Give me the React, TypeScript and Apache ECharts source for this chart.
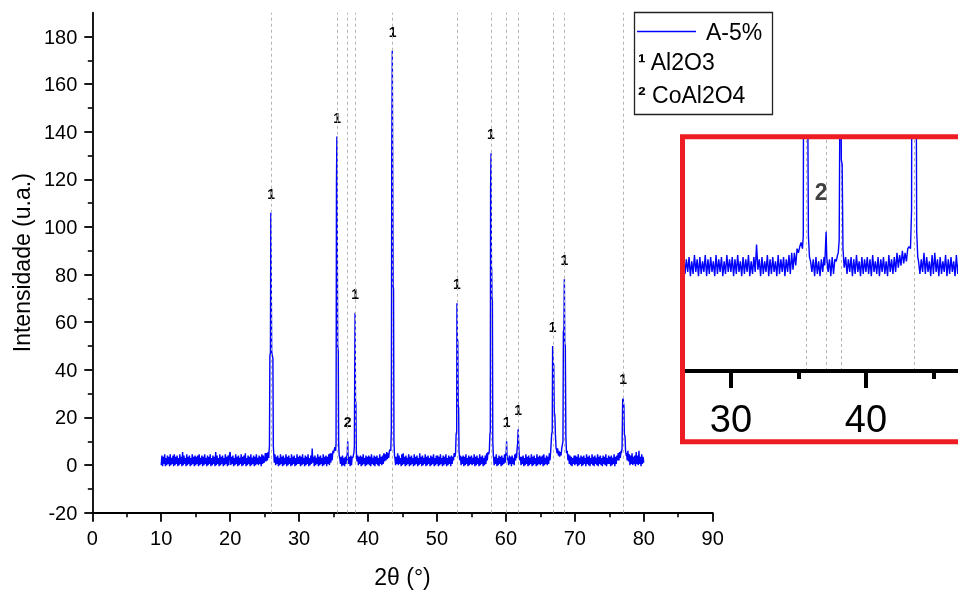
import React, { useEffect, useRef } from "react";
import * as echarts from "echarts";

// ---- Background counts, 2θ step 0.1°. null = covered by a peak profile ----
const n10 = [0, 4, -0.5, 3.5, 0.5, 4.5, -0.5, 3, 0, 4, 0.5, 3.5, -0.5, 4.5, 0, 3, 0.5, 4, -0.5, 4.5, 0, 3.5, 0.5, 4, -0.5, 3, 0, 4.5, 0.5, 3.5, -0.5, 5.5, 0, 4, 0.5, 3, -0.5, 4.5, 0, 3.5, 0.5, 4, -0.5, 3, 0, 4.5, 0.5, 3.5, -0.5, 4];
const n15 = [0, 3.5, 0.5, 4, -0.5, 4.5, 0, 3, 0.5, 4, -0.5, 3.5, 0, 4.5, 0.5, 3, -0.5, 4, 0, 3.5, 0.5, 4.5, -0.5, 3, 0, 4, 0.5, 3.5, -0.5, 5.5, 0, 4, 0.5, 3, -0.5, 4.5, 0, 3.5, 0.5, 4, -0.5, 3, 0, 4.5, 0.5, 3.5, -0.5, 4, 0, 4.5];
const n20 = [5.5, 0, 3.5, 0.5, 4, -0.5, 3, 0, 4.5, 0.5, 3.5, -0.5, 4, 0, 3, 0.5, 4.5, -0.5, 3.5, 0, 4, 0.5, 5, -0.5, 3, 0, 4, 0.5, 3.5, -0.5, 4.5, 0, 3, 0.5, 4, -0.5, 3.5, 0, 4.5, 0.5, 3, 0, 4, 0.5, 3.5, -0.5, 4.5, 0.5, 4, 1];
const n25 = [2, 5, 1.5, 5, 2, 5.5, 3, null, null, null, null, null, null, null, 1, 4.5, 0, 3.5, 0.5, 4, -0.5, 3, 0, 4.5, 0.5, 3.5, -0.5, 4, 0, 3, 0.5, 4.5, -0.5, 3.5, 0, 4, 0.5, 3, -0.5, 4.5, 0, 3.5, 0.5, 4, -0.5, 3, 0, 4.5, 0.5, 3.5];
const n30 = [0.5, 4, -0.5, 3.5, 0, 4.5, 0.5, 3, -0.5, 4, 0, 3.5, 0.5, 4.5, -0.5, 3, 0, 4, 0.5, 7, 1, 3.5, -0.5, 4, 0, 3, 0.5, 4.5, -0.5, 3.5, 0, 4, 0.5, 3, -0.5, 4.5, 0, 3.5, 0.5, 4, -0.5, 3.5, 0.5, 4.5, 0, 5, 1, 5, 2, 6];
const n35 = [5, 6.5, 7.5, null, null, null, null, null, null, 3, 0.5, 3.5, -0.5, 4, 0, 3, -0.5, 3.5, 0.5, 4, null, null, 0.5, 3.5, -0.5, 4, 0, 3.5, 3, 4.5, null, null, null, null, 1.5, 4, 0, 3.5, 0.5, 4, -0.5, 3.5, 0, 4.5, 0.5, 3, -0.5, 4, 0, 3.5];
const n40 = [0.5, 4, 0, 3.5, -0.5, 4.5, 0.5, 3, 0, 4, -0.5, 3.5, 0.5, 4, 0, 3, -0.5, 4.5, 0.5, 3.5, 0, 4, 0.5, 5, 1.5, 4.5, 2, 5.5, 2.5, 5, 3, 6, 6.5, null, null, null, null, null, null, 3, 0, 3.5, 0.5, 5, 0, 4, 0.5, 3, -0.5, 4.5];
const n45 = [0, 5, 0.5, 3.5, -0.5, 4, 0, 3, 0.5, 4.5, -0.5, 3.5, 0, 4, 0.5, 3, -0.5, 4.5, 0, 3.5, 0.5, 4, -0.5, 3, 0, 5, 0.5, 3.5, -0.5, 4, 0, 3, 0.5, 4.5, -0.5, 3.5, 0, 4, 0.5, 3, -0.5, 4, 0, 3.5, 0.5, 4.5, -0.5, 3, 0, 4];
const n50 = [0.5, 4, -0.5, 3.5, 0, 4.5, 0.5, 3, -0.5, 4, 0, 3.5, 0.5, 4.5, -0.5, 3, 0, 4, 0.5, 3.5, -0.5, 4, 0.5, 3.5, 2, 5, 3.5, null, null, null, null, null, null, 2, 4, 0, 3.5, 0.5, 4, -0.5, 3.5, 0, 4.5, 0.5, 3, -0.5, 4, 0, 3.5, 0.5];
const n55 = [4, 0, 3, 0.5, 4.5, -0.5, 3.5, 0, 4, 0.5, 3, -0.5, 4.5, 0, 3.5, 0.5, 4, -0.5, 3, 0, 4, 0.5, 5, 2, 5.5, 4.5, null, null, null, null, null, null, 3.5, 0, 3.5, 0.5, 4.5, -0.5, 3, 0, 4, 0.5, 3.5, -0.5, 4, 0, 3, 0.5, 4.5, 1];
const n60 = [null, null, null, 3, 0, 4, 0.5, 3.5, -0.5, 4, 0.5, 3, 0, 4.5, 2, 5, null, null, null, null, null, 3.5, 0, 3.5, 0.5, 4, -0.5, 3, 0, 4.5, 0.5, 3.5, -0.5, 4, 0, 3, 0.5, 4.5, -0.5, 3.5, 0, 4, 0.5, 3, -0.5, 4.5, 0, 3.5, 0.5, 4];
const n65 = [0, 3.5, 0.5, 4, -0.5, 4.5, 0, 3, 0.5, 4, 0, 3.5, 0.5, 5, 2, 6, null, null, null, null, null, null, null, null, 5, 7, 4, 6, 3.5, 5.5, 4, 7, null, null, null, null, null, null, 5, 6, 2, 4.5, 0.5, 4, 0, 3.5, -0.5, 3, 0.5, 4];
const n70 = [0, 4, 0.5, 3.5, -0.5, 4.5, 0, 3, 0.5, 4, -0.5, 3.5, 0, 4, 0.5, 3, -0.5, 4.5, 0.5, 3.5, 0, 4, -0.5, 3, 0.5, 4.5, 0, 3.5, -0.5, 4, 0.5, 3, 0, 4.5, -0.5, 3.5, 0.5, 4, 0, 3, -0.5, 4, 0.5, 3.5, 0, 4.5, -0.5, 3, 0.5, 4];
const n75 = [0.5, 3.5, -0.5, 4, 0, 3, 0.5, 4.5, -0.5, 3.5, 0.5, 4, 2, 5, 2, 5.5, 3, 6, null, null, null, null, null, null, null, 5, 2, 6, 1.5, 4.5, 0, 4, 0.5, 5, 0, 3.5, 0.5, 4, -0.5, 5.5, 0.5, 4, 0, 6, 0.5, 3.5, -0.5, 4.5, 0.5, 3.5];
const noiseEnd = 1; // value at 80.0°

// ---- Peak profiles [2θ, intensity] ----
const peak26 = [[25.62, 5], [25.7, 8], [25.76, 46], [25.84, 47], [25.9, 106], [25.96, 106], [26.02, 48], [26.1, 46], [26.2, 45], [26.26, 8], [26.34, 4]];
const peak35 = [[35.3, 6], [35.36, 9], [35.42, 118], [35.48, 138], [35.54, 138], [35.6, 50], [35.68, 48], [35.74, 9], [35.82, 4]];
const peak37 = [[36.95, 2], [37.0, 6], [37.05, 10], [37.1, 4], [37.18, 1]];
const peak38 = [[37.95, 5], [38.02, 8], [38.06, 33], [38.12, 64], [38.18, 27], [38.24, 26], [38.3, 6], [38.38, 2]];
const peak43 = [[43.3, 6], [43.38, 15], [43.44, 129], [43.52, 174], [43.6, 174], [43.64, 75], [43.7, 74], [43.76, 10], [43.84, 4]];
const peak53 = [[52.7, 5], [52.78, 13], [52.86, 14], [52.9, 68], [52.96, 53], [53.02, 52], [53.08, 25], [53.14, 24], [53.2, 6]];
const peak58 = [[57.6, 6], [57.68, 13], [57.74, 14], [57.78, 116], [57.84, 131], [57.9, 83], [57.94, 82], [57.98, 70], [58.04, 69], [58.1, 10], [58.18, 4]];
const peak60 = [[59.95, 3], [60.05, 6], [60.1, 10], [60.16, 4], [60.24, 2]];
const peak62 = [[61.55, 3], [61.63, 7], [61.7, 9], [61.78, 15], [61.84, 10], [61.92, 5], [62.0, 2]];
const peak67 = [[66.56, 6], [66.64, 13], [66.72, 14], [66.78, 50], [66.86, 43], [66.94, 42], [67.02, 22], [67.1, 21], [67.18, 13], [67.28, 7], [67.38, 6]];
const peak68 = [[68.2, 7], [68.28, 10], [68.34, 56], [68.42, 57], [68.48, 78], [68.54, 51], [68.62, 50], [68.7, 12], [68.78, 6]];
const peak77 = [[76.75, 5], [76.85, 7], [76.94, 27], [77.0, 28], [77.06, 26], [77.12, 25], [77.18, 13], [77.28, 12], [77.36, 6], [77.46, 4]];

// ---- Phase markers ----
const al2o3Peaks = [[25.93, 106], [35.51, 138], [38.12, 64], [43.56, 174], [52.9, 68], [57.84, 131], [60.1, 10], [61.78, 15], [66.78, 50], [68.48, 78], [77.0, 28]];
const coal2o4Peaks = [[37.05, 10]];
const refLines = [26.0, 35.55, 37.05, 38.15, 43.55, 52.95, 57.85, 60.1, 61.75, 66.8, 68.5, 77.0];
const insetRefLines = [35.55, 37.05, 38.15, 43.55];

const yLabels = [-20, 0, 20, 40, 60, 80, 100, 120, 140, 160, 180];
const insetMajor = [30, 40];
const insetMinor = [35, 45];

const FONT = "'Liberation Sans', Arial, Helvetica, sans-serif";

function buildData() {
  const segs: [number, (number | null)[]][] = [
    [10, n10], [15, n15], [20, n20], [25, n25], [30, n30], [35, n35], [40, n40],
    [45, n45], [50, n50], [55, n55], [60, n60], [65, n65], [70, n70], [75, n75],
  ];
  const bg: number[][] = [];
  segs.forEach(([start, arr]) =>
    arr.forEach((v, i) => {
      if (v !== null) bg.push([+(start + 0.1 * i).toFixed(1), v]);
    })
  );
  bg.push([80, noiseEnd]);
  const peaks = [peak26, peak35, peak37, peak38, peak43, peak53, peak58, peak60, peak62, peak67, peak68, peak77];
  const wins = peaks.map((p) => [p[0][0], p[p.length - 1][0]]);
  const kept = bg.filter(([x]) => !wins.some(([a, b]) => x >= a && x <= b));
  const all = kept.concat(...peaks);
  all.sort((a, b) => a[0] - b[0]);
  return all;
}

export default function App() {
  const ref = useRef<HTMLDivElement>(null);
  useEffect(() => {
    if (!ref.current) return;
    const chart = echarts.init(ref.current, undefined, { renderer: "svg" });
    const xrd = buildData();
    const dashed = { color: "#b4b4b4", width: 1, type: [3, 3] as any };
    const labelData = al2o3Peaks
      .map(([x, y]) => ({ name: "1", value: [x, y] }))
      .concat(coal2o4Peaks.map(([x, y]) => ({ name: "2", value: [x, y] })));

    const option: any = {
      animation: false,
      textStyle: { fontFamily: FONT },
      grid: [
        { left: 92.3, top: 12.7, right: 245.3, bottom: 80.3, outerBoundsMode: "none" },
        { left: 685, top: 139, width: 273, height: 232, outerBoundsMode: "none" },
        { left: 685, top: 139, width: 273, height: 232, outerBoundsMode: "none" },
      ],
      legend: {
        data: [{ name: "A-5%", icon: "rect" }],
        left: 637,
        top: 20,
        padding: 0,
        itemWidth: 59,
        itemHeight: 1.6,
        textStyle: { fontSize: 23, color: "#000", fontFamily: FONT, padding: [0, 0, 0, 5] },
      },
      xAxis: [
        {
          gridIndex: 0,
          type: "value",
          min: 0,
          max: 90,
          interval: 10,
          name: "2θ (°)",
          nameLocation: "middle",
          nameGap: 53,
          nameTextStyle: { fontSize: 23, color: "#000", fontFamily: FONT },
          axisLine: { onZero: false, lineStyle: { color: "#000", width: 1.8 } },
          axisTick: { length: 9, lineStyle: { color: "#000", width: 1.8 } },
          minorTick: { show: true, splitNumber: 2, length: 4.5, lineStyle: { color: "#000", width: 1.6 } },
          axisLabel: { fontSize: 20, margin: 15, color: "#000", fontFamily: FONT },
          splitLine: { show: false },
        },
        {
          gridIndex: 1,
          type: "value",
          min: 26.6,
          max: 46.82,
          z: 6,
          axisLine: { onZero: false, lineStyle: { color: "#000", width: 4 } },
          axisTick: { customValues: insetMajor, length: 17, lineStyle: { color: "#000", width: 4 } },
          axisLabel: { customValues: insetMajor, fontSize: 38, margin: 29, color: "#000", fontFamily: FONT },
          splitLine: { show: false },
        },
        {
          gridIndex: 2,
          type: "value",
          min: 26.6,
          max: 46.82,
          z: 6,
          axisLine: { show: false, onZero: false },
          axisTick: { customValues: insetMinor, length: 8, lineStyle: { color: "#000", width: 4 } },
          axisLabel: { show: false },
          splitLine: { show: false },
        },
      ],
      yAxis: [
        {
          gridIndex: 0,
          type: "value",
          min: -20,
          max: 190,
          interval: 20,
          name: "Intensidade (u.a.)",
          nameLocation: "middle",
          nameGap: 58,
          nameTextStyle: { fontSize: 23, color: "#000", fontFamily: FONT },
          axisLine: { show: true, onZero: false, lineStyle: { color: "#000", width: 1.8 } },
          axisTick: { customValues: yLabels, length: 8, lineStyle: { color: "#000", width: 1.8 } },
          minorTick: { show: true, splitNumber: 2, length: 4.5, lineStyle: { color: "#000", width: 1.6 } },
          axisLabel: {
            customValues: yLabels,
            fontSize: 20,
            margin: 15,
            color: "#000",
            fontFamily: FONT,
            formatter: (v: number) => (v > 180 ? "" : String(v)),
          },
          splitLine: { show: false },
        },
        { gridIndex: 1, type: "value", min: -23, max: 32, show: false, splitLine: { show: false } },
        { gridIndex: 2, type: "value", min: -23, max: 32, show: false, splitLine: { show: false } },
      ],
      series: [
        {
          name: "A-5%",
          type: "line",
          xAxisIndex: 0,
          yAxisIndex: 0,
          data: xrd,
          symbol: "none",
          showSymbol: false,
          z: 3,
          lineStyle: { color: "#0000ff", width: 1.4 },
          itemStyle: { color: "#0000ff" },
          markLine: {
            silent: true,
            symbol: "none",
            label: { show: false },
            lineStyle: dashed,
            data: refLines.map((x) => ({ xAxis: x })),
          },
        },
        {
          name: "fases",
          type: "scatter",
          xAxisIndex: 0,
          yAxisIndex: 0,
          symbolSize: 0,
          itemStyle: { color: "rgba(0,0,0,0)" },
          data: labelData,
          z: 4,
          label: {
            show: true,
            position: "top",
            distance: 12,
            formatter: "{b}",
            fontSize: 14,
            fontWeight: "bold",
            color: "#000",
            opacity: 1,
            fontFamily: FONT,
          },
        },
        {
          name: "A-5% (detalhe)",
          type: "line",
          xAxisIndex: 1,
          yAxisIndex: 1,
          data: xrd,
          symbol: "none",
          showSymbol: false,
          clip: true,
          z: 5,
          lineStyle: { color: "#0000ff", width: 1.4 },
          itemStyle: { color: "#0000ff" },
          markLine: {
            silent: true,
            symbol: "none",
            label: { show: false },
            lineStyle: dashed,
            data: insetRefLines.map((x) => ({ xAxis: x })),
          },
        },
        {
          name: "fase detalhe",
          type: "scatter",
          xAxisIndex: 1,
          yAxisIndex: 1,
          symbolSize: 0,
          itemStyle: { color: "rgba(0,0,0,0)" },
          data: coal2o4Peaks.map(([x, y]) => ({ name: "2", value: [x, y] })),
          z: 6,
          label: {
            show: true,
            position: "top",
            distance: 28,
            offset: [-5, 0],
            formatter: "{b}",
            fontSize: 23,
            fontWeight: "bold",
            color: "#111",
            fontFamily: FONT,
          },
        },
      ],
      graphic: [
        {
          type: "rect",
          z: 1,
          shape: { x: 634.5, y: 12.5, width: 138, height: 102 },
          style: { fill: "none", stroke: "#222", lineWidth: 1.3 },
        },
        {
          type: "text",
          z: 5,
          x: 638,
          y: 62,
          style: {
            text: "{s|¹} Al2O3",
            fontSize: 23,
            fill: "#000",
            verticalAlign: "middle",
            fontFamily: FONT,
            rich: { s: { fontSize: 23, fontWeight: "bold", fill: "#000", fontFamily: FONT } },
          },
        },
        {
          type: "text",
          z: 5,
          x: 638,
          y: 95,
          style: {
            text: "{s|²} CoAl2O4",
            fontSize: 23,
            fill: "#000",
            verticalAlign: "middle",
            fontFamily: FONT,
            rich: { s: { fontSize: 23, fontWeight: "bold", fill: "#000", fontFamily: FONT } },
          },
        },
        {
          type: "rect",
          z: 100,
          shape: { x: 682.5, y: 136.8, width: 400, height: 305 },
          style: { fill: "none", stroke: "#ee1d23", lineWidth: 5 },
        },
      ],
    };
    chart.setOption(option);
    return () => chart.dispose();
  }, []);
  return <div ref={ref} style={{ position: "fixed", left: 0, top: 0, width: 958, height: 593 }} />;
}
